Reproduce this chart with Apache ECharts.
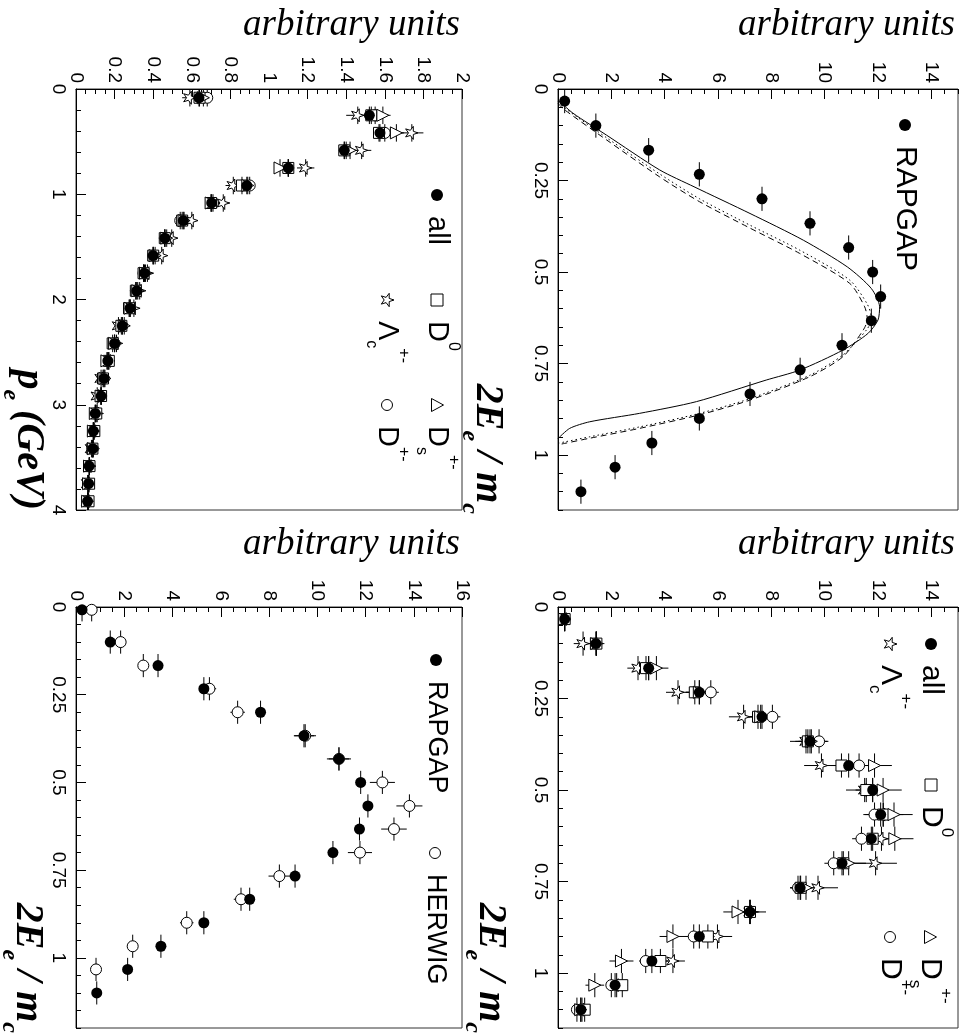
<!DOCTYPE html>
<html>
<head>
<meta charset="utf-8">
<script src="https://cdn.jsdelivr.net/npm/echarts@6/dist/echarts.min.js"></script>
<style>
  html, body { margin: 0; padding: 0; background: #fff; }
  #chart { width: 961px; height: 1034px; }
</style>
</head>
<body>
<div id="chart"></div>
<script>
// ---- data ----
// bin centres along 2E_e/m_c
const binsE = [0.033, 0.1, 0.167, 0.233, 0.3, 0.367, 0.433, 0.5, 0.567, 0.633, 0.7, 0.767, 0.833, 0.9, 0.967, 1.033, 1.1];
// bottom-left panel: first row sits right at the top edge
const binsEbl = [0.008, 0.1, 0.167, 0.233, 0.3, 0.367, 0.433, 0.5, 0.567, 0.633, 0.7, 0.767, 0.833, 0.9, 0.967, 1.033, 1.1];
const halfBinE = 0.033;
// bin centres along p_e (GeV)
const binsP = [0.083, 0.25, 0.417, 0.583, 0.75, 0.917, 1.083, 1.25, 1.417, 1.583, 1.75, 1.917,
  2.083, 2.25, 2.417, 2.583, 2.75, 2.917, 3.083, 3.25, 3.417, 3.583, 3.75, 3.917];
const halfBinP = 0.083;

// RAPGAP, all charm (same points in three panels)
const rapgap = [0.25, 1.42, 3.4, 5.3, 7.65, 9.45, 10.9, 11.8, 12.1, 11.75, 10.65, 9.08, 7.2, 5.3, 3.52, 2.14, 0.86];
const rapgapErr = [0.05, 0.1, 0.15, 0.15, 0.2, 0.2, 0.2, 0.2, 0.2, 0.2, 0.2, 0.2, 0.15, 0.15, 0.1, 0.1, 0.05];
const rapgapErrBL = [0.05, 0.1, 0.15, 0.2, 0.2, 0.42, 0.42, 0.2, 0.2, 0.2, 0.2, 0.2, 0.15, 0.15, 0.1, 0.1, 0.05];
// HERWIG
const herwig = [0.65, 1.85, 2.79, 5.53, 6.7, 9.5, 10.9, 12.7, 13.82, 13.18, 11.77, 8.43, 6.84, 4.59, 2.35, 0.83];
const herwigErr = [0.1, 0.15, 0.2, 0.28, 0.3, 0.45, 0.5, 0.52, 0.54, 0.53, 0.5, 0.45, 0.3, 0.28, 0.2, 0.15];

// bottom-right: per hadron species
const d0E = [0.25, 1.44, 3.3, 5.13, 7.5, 9.37, 10.63, 11.56, 12.19, 11.8, 10.7, 9.1, 7.2, 5.62, 3.84, 2.41, 1.0];
const dpE = [0.25, 1.44, 3.4, 5.73, 8.04, 9.79, 11.29, 11.8, 11.87, 11.38, 10.34, 9.0, 7.2, 5.09, 3.29, 2.0, 0.71];
const dsE = [0.25, 1.44, 3.69, 5.3, 7.6, 9.5, 11.87, 12.19, 12.6, 12.63, 10.9, 9.3, 6.75, 4.31, 2.38, 1.38, 0.85];
const lcE = [0.25, 0.94, 3.0, 4.5, 6.96, 9.3, 9.88, 11.5, 12.2, 12.13, 11.91, 9.75, 7.2, 5.98, 4.31, 2.2, 0.9];
const d0Err = [0.1, 0.2, 0.3, 0.35, 0.35, 0.35, 0.4, 0.4, 0.4, 0.4, 0.35, 0.35, 0.35, 0.3, 0.3, 0.2, 0.15];
const dpErr = [0.1, 0.2, 0.3, 0.3, 0.3, 0.35, 0.35, 0.35, 0.35, 0.35, 0.35, 0.3, 0.3, 0.3, 0.25, 0.2, 0.15];
const dsErr = [0.15, 0.3, 0.45, 0.5, 0.55, 0.6, 0.65, 0.7, 0.7, 0.7, 0.65, 0.6, 0.55, 0.5, 0.45, 0.35, 0.3];
const lcErr = [0.15, 0.35, 0.4, 0.45, 0.55, 0.6, 0.65, 0.7, 0.75, 0.75, 0.8, 0.75, 0.6, 0.55, 0.45, 0.35, 0.25];

// top-left: p_e spectra
const allP = [0.637, 1.52, 1.575, 1.39, 1.1, 0.885, 0.703, 0.556, 0.461, 0.4, 0.355, 0.315, 0.28, 0.24, 0.2, 0.165, 0.145, 0.13, 0.1, 0.09, 0.087, 0.068, 0.065, 0.06];
const d0P = [0.64, 1.53, 1.57, 1.39, 1.1, 0.86, 0.7, 0.55, 0.46, 0.4, 0.35, 0.31, 0.275, 0.235, 0.19, 0.17, 0.14, 0.13, 0.105, 0.095, 0.085, 0.07, 0.068, 0.065];
const dsP = [0.66, 1.59, 1.66, 1.42, 1.057, 0.89, 0.7, 0.56, 0.47, 0.41, 0.36, 0.32, 0.28, 0.25, 0.2, 0.16, 0.15, 0.13, 0.1, 0.09, 0.09, 0.07, 0.065, 0.06];
const lcP = [0.59, 1.46, 1.74, 1.48, 1.19, 0.815, 0.763, 0.6, 0.496, 0.444, 0.37, 0.33, 0.3, 0.22, 0.21, 0.17, 0.13, 0.11, 0.11, 0.09, 0.08, 0.07, 0.06, 0.06];
const dpP = [0.68, 1.55, 1.6, 1.4, 1.1, 0.9, 0.71, 0.54, 0.46, 0.4, 0.35, 0.31, 0.28, 0.24, 0.2, 0.165, 0.145, 0.13, 0.1, 0.09, 0.087, 0.068, 0.065, 0.06];
const allPErr = [0.01, 0.015, 0.015, 0.015, 0.012, 0.01, 0.01, 0.01, 0.008, 0.008, 0.008, 0.007, 0.007, 0.006, 0.006, 0.005, 0.005, 0.005, 0.004, 0.004, 0.004, 0.004, 0.003, 0.003];
const d0PErr = [0.015, 0.02, 0.02, 0.02, 0.018, 0.015, 0.015, 0.012, 0.012, 0.01, 0.01, 0.01, 0.009, 0.008, 0.008, 0.007, 0.007, 0.006, 0.006, 0.005, 0.005, 0.005, 0.005, 0.005];
const dsPErr = [0.03, 0.04, 0.04, 0.035, 0.03, 0.03, 0.025, 0.025, 0.02, 0.02, 0.02, 0.018, 0.016, 0.015, 0.014, 0.013, 0.012, 0.011, 0.01, 0.01, 0.01, 0.009, 0.009, 0.009];
const lcPErr = [0.04, 0.06, 0.06, 0.05, 0.045, 0.04, 0.035, 0.03, 0.03, 0.025, 0.025, 0.022, 0.02, 0.02, 0.018, 0.016, 0.015, 0.014, 0.013, 0.012, 0.012, 0.011, 0.011, 0.01];
const dpPErr = [0.02, 0.025, 0.025, 0.025, 0.02, 0.02, 0.018, 0.016, 0.015, 0.013, 0.012, 0.011, 0.01, 0.01, 0.009, 0.008, 0.008, 0.007, 0.007, 0.006, 0.006, 0.006, 0.005, 0.005];

// model curves in the top-right panel: (2E_e/m_c, value)
const solidX = [0.03, 0.066, 0.126, 0.221, 0.267, 0.34, 0.413, 0.486, 0.545, 0.595, 0.631, 0.668, 0.713, 0.768, 0.795, 0.854, 0.886, 0.909, 0.927, 0.955];
const solidV = [0, 0.56, 1.82, 3.81, 5.1, 7.2, 9.2, 10.85, 11.75, 12.06, 12.0, 11.62, 10.69, 9.06, 7.81, 5.19, 3.06, 1.19, 0.44, 0];
const dashX = [0.04, 0.057, 0.139, 0.24, 0.308, 0.38, 0.449, 0.531, 0.595, 0.63, 0.658, 0.731, 0.786, 0.85, 0.89, 0.927, 0.954, 0.968, 0.972];
const dashV = [0, 0.25, 1.82, 3.81, 5.31, 7.2, 9.06, 10.94, 11.5, 11.6, 11.45, 10.69, 9.44, 7.19, 5.31, 3.06, 1.19, 0.25, 0];
const dotX = [0.035, 0.052, 0.133, 0.232, 0.3, 0.372, 0.44, 0.522, 0.588, 0.625, 0.655, 0.726, 0.782, 0.846, 0.886, 0.923, 0.95, 0.964, 0.968];
const dotV = [0, 0.25, 1.82, 3.81, 5.31, 7.2, 9.06, 10.94, 11.6, 11.75, 11.6, 10.69, 9.44, 7.19, 5.31, 3.06, 1.19, 0.25, 0];

// ---- layout ----
const sansFont = "'Liberation Sans', Arial, Helvetica, sans-serif";
const serifFont = "'Liberation Serif', 'Times New Roman', serif";
const starPath = 'path://M50,0 L61.8,35.1 L98.6,35.3 L69.1,57.3 L80.1,92.5 L50,71.2 L19.9,92.5 L30.9,57.3 L1.4,35.3 L38.2,35.1 Z';

// value axis runs across (top), 2E/m or p_e runs down (left)
const panels = [
  {left: 76, top: 89, width: 386, height: 421, vMax: 2, vStep: 0.2, vMinor: 0.05, vLast: true, xMax: 4, xStep: 1, xMinor: 0.2, xLast: true},
  {left: 558, top: 89, width: 400, height: 421, vMax: 15, vStep: 2, vMinor: 0.5, vLast: false, xMax: 1.15, xStep: 0.25, xMinor: 0.05, xLast: false},
  {left: 76, top: 607, width: 386, height: 421, vMax: 16, vStep: 2, vMinor: 0.5, vLast: true, xMax: 1.2, xStep: 0.25, xMinor: 0.05, xLast: false},
  {left: 558, top: 607, width: 400, height: 421, vMax: 15, vStep: 2, vMinor: 0.5, vLast: false, xMax: 1.15, xStep: 0.25, xMinor: 0.05, xLast: false}
];

const option = {
  animation: false,
  backgroundColor: '#fff',
  grid: [],
  xAxis: [],
  yAxis: [],
  series: [],
  graphic: []
};

const tickLabel = {color: '#000', fontSize: 19, fontFamily: sansFont};

panels.forEach((p, i) => {
  option.grid.push({
    left: p.left, top: p.top, width: p.width, height: p.height,
    show: true, borderColor: '#333', borderWidth: 1, backgroundColor: 'transparent',
    outerBoundsMode: 'none', containLabel: false
  });
  // across: arbitrary units (labels turned to read downwards, end at the axis)
  option.xAxis.push({
    gridIndex: i, type: 'value', position: 'top', min: 0, max: p.vMax, interval: p.vStep,
    axisLine: {show: true, onZero: false, lineStyle: {color: '#000', width: 1}},
    axisTick: {show: true, inside: true, length: 10, lineStyle: {color: '#000', width: 1}},
    axisLabel: Object.assign({rotate: 90, margin: 6, showMinLabel: true, showMaxLabel: p.vLast, align: 'right', verticalAlign: 'middle'}, tickLabel),
    splitLine: {show: false}
  });
  option.xAxis.push({
    gridIndex: i, type: 'value', position: 'top', min: 0, max: p.vMax, interval: p.vMinor,
    axisLine: {show: false, onZero: false},
    axisTick: {show: true, inside: true, length: 5, lineStyle: {color: '#000', width: 1}},
    axisLabel: {show: false}, splitLine: {show: false}
  });
  // down: 2E_e/m_c or p_e
  option.yAxis.push({
    gridIndex: i, type: 'value', position: 'left', inverse: true, min: 0, max: p.xMax, interval: p.xStep,
    axisLine: {show: true, onZero: false, lineStyle: {color: '#000', width: 1}},
    axisTick: {show: true, inside: true, length: 10, lineStyle: {color: '#000', width: 1}},
    axisLabel: Object.assign({rotate: -90, margin: 8, showMinLabel: true, showMaxLabel: p.xLast, align: 'center', verticalAlign: 'top'}, tickLabel),
    splitLine: {show: false}
  });
  option.yAxis.push({
    gridIndex: i, type: 'value', position: 'left', inverse: true, min: 0, max: p.xMax, interval: p.xMinor,
    axisLine: {show: false, onZero: false},
    axisTick: {show: true, inside: true, length: 5, lineStyle: {color: '#000', width: 1}},
    axisLabel: {show: false}, splitLine: {show: false}
  });
});

function errBars(panel, vals, errs, bins, half) {
  const data = [];
  vals.forEach((v, k) => { if (v != null) data.push([v, bins[k], errs[k], half]); });
  return {
    type: 'custom', xAxisIndex: panel * 2, yAxisIndex: panel * 2, clip: true, z: 2,
    encode: {x: 0, y: 1},
    renderItem: function (params, api) {
      const v = api.value(0), x = api.value(1), ve = api.value(2), xe = api.value(3);
      const a = api.coord([v, x - xe]), b = api.coord([v, x + xe]);
      const c = api.coord([v - ve, x]), d = api.coord([v + ve, x]);
      const st = {stroke: '#000', lineWidth: 1};
      return {type: 'group', children: [
        {type: 'line', shape: {x1: a[0], y1: a[1], x2: b[0], y2: b[1]}, style: st},
        {type: 'line', shape: {x1: c[0], y1: c[1], x2: d[0], y2: d[1]}, style: st}
      ]};
    },
    data: data
  };
}

const markers = {
  full: {symbol: 'circle', size: 11, rot: 0, style: {color: '#000', opacity: 1}},
  ocircle: {symbol: 'circle', size: 11, rot: 0, style: {color: '#fff', borderColor: '#000', borderWidth: 1, opacity: 1}},
  rect: {symbol: 'rect', size: 11, rot: 0, style: {color: '#fff', borderColor: '#000', borderWidth: 1, opacity: 1}},
  tri: {symbol: 'triangle', size: 12, rot: -90, style: {color: '#fff', borderColor: '#000', borderWidth: 1, opacity: 1}},
  star: {symbol: starPath, size: 13, rot: -90, style: {color: '#fff', borderColor: '#000', borderWidth: 1, opacity: 1}}
};

function points(panel, vals, bins, kind, z) {
  const m = markers[kind];
  const data = [];
  vals.forEach((v, k) => { if (v != null) data.push([v, bins[k]]); });
  return {
    type: 'scatter', xAxisIndex: panel * 2, yAxisIndex: panel * 2, z: z,
    symbol: m.symbol, symbolSize: m.size, symbolRotate: m.rot, symbolKeepAspect: true,
    itemStyle: m.style, emphasis: {disabled: true}, data: data
  };
}

function curve(panel, xs, vs, dash) {
  return {
    type: 'line', xAxisIndex: panel * 2, yAxisIndex: panel * 2, z: 1,
    showSymbol: false, smooth: 0.25, clip: true,
    lineStyle: {color: '#000', width: 1, type: dash},
    data: xs.map((x, k) => [vs[k], x])
  };
}

// top-left: p_e
option.series.push(
  errBars(0, lcP, lcPErr, binsP, halfBinP), errBars(0, dpP, dpPErr, binsP, halfBinP),
  errBars(0, d0P, d0PErr, binsP, halfBinP), errBars(0, dsP, dsPErr, binsP, halfBinP),
  errBars(0, allP, allPErr, binsP, halfBinP),
  points(0, lcP, binsP, 'star', 3), points(0, dpP, binsP, 'ocircle', 4),
  points(0, d0P, binsP, 'rect', 5), points(0, dsP, binsP, 'tri', 6),
  points(0, allP, binsP, 'full', 7)
);
// top-right: RAPGAP with model curves
option.series.push(
  curve(1, solidX, solidV, 'solid'), curve(1, dashX, dashV, [6, 4]), curve(1, dotX, dotV, [1.5, 3]),
  errBars(1, rapgap, rapgapErr, binsE, halfBinE), points(1, rapgap, binsE, 'full', 7)
);
// bottom-left: RAPGAP vs HERWIG
option.series.push(
  errBars(2, herwig, herwigErr, binsEbl, halfBinE), errBars(2, rapgap, rapgapErrBL, binsEbl, halfBinE),
  points(2, herwig, binsEbl, 'ocircle', 4), points(2, rapgap, binsEbl, 'full', 7)
);
// bottom-right: species
option.series.push(
  errBars(3, lcE, lcErr, binsE, halfBinE), errBars(3, dpE, dpErr, binsE, halfBinE),
  errBars(3, d0E, d0Err, binsE, halfBinE), errBars(3, dsE, dsErr, binsE, halfBinE),
  errBars(3, rapgap, rapgapErr, binsE, halfBinE),
  points(3, lcE, binsE, 'star', 3), points(3, dpE, binsE, 'ocircle', 4),
  points(3, d0E, binsE, 'rect', 5), points(3, dsE, binsE, 'tri', 6),
  points(3, rapgap, binsE, 'full', 7)
);

// ---- titles ----
[[460, 44], [955, 44], [460, 563], [955, 563]].forEach(pos => {
  option.graphic.push({
    type: 'text', x: pos[0], y: pos[1], z: 10,
    style: {text: 'arbitrary units', fill: '#000', fontFamily: serifFont, fontStyle: 'italic',
      fontSize: 37, align: 'right', verticalAlign: 'bottom'}
  });
});

const axisRich = {
  b: {fill: '#000', fontFamily: serifFont, fontStyle: 'italic', fontWeight: 'bold', fontSize: 40, lineHeight: 60, verticalAlign: 'middle'},
  s: {fill: '#000', fontFamily: serifFont, fontStyle: 'italic', fontWeight: 'bold', fontSize: 24, lineHeight: 26, verticalAlign: 'bottom'}
};
function sideTitle(x, y, text) {
  return {
    type: 'text', x: x, y: y, rotation: -Math.PI / 2, z: 10,
    style: {text: text, rich: axisRich, fill: '#000', align: 'right', verticalAlign: 'middle'}
  };
}
option.graphic.push(
  sideTitle(28, 510, '{b|p}{s|e}{b| (GeV)}'),
  sideTitle(487, 514, '{b|2E}{s|e}{b| / m}{s|c}'),
  sideTitle(27, 1033, '{b|2E}{s|e}{b| / m}{s|c}'),
  sideTitle(490, 1033, '{b|2E}{s|e}{b| / m}{s|c}')
);

// ---- legends (rotated with the rest of the figure) ----
function legendRich(size) {
  return {
    m: {fill: '#000', fontFamily: sansFont, fontSize: size, lineHeight: 48, verticalAlign: 'middle'},
    p: {fill: '#000', fontFamily: sansFont, fontSize: Math.round(size * 0.55), lineHeight: 20, verticalAlign: 'top'},
    s: {fill: '#000', fontFamily: sansFont, fontSize: Math.round(size * 0.55), lineHeight: 20, verticalAlign: 'bottom'}
  };
}
function legendMarker(kind) {
  const open = {fill: '#fff', stroke: '#000', lineWidth: 1};
  if (kind === 'full') return {type: 'circle', shape: {cx: 0, cy: 0, r: 6}, style: {fill: '#000'}};
  if (kind === 'ocircle') return {type: 'circle', shape: {cx: 0, cy: 0, r: 5.5}, style: open};
  if (kind === 'rect') return {type: 'rect', shape: {x: -6, y: -6, width: 12, height: 12}, style: open};
  if (kind === 'tri') return {type: 'polygon', shape: {points: [[0, -6.5], [6.5, 5.5], [-6.5, 5.5]]}, style: open};
  return {type: 'polygon', shape: {points: [[0, -7], [1.6, -2.2], [6.7, -2.2], [2.6, 0.9], [4.1, 5.7], [0, 2.8], [-4.1, 5.7], [-2.6, 0.9], [-6.7, -2.2], [-1.6, -2.2]]}, style: open};
}
function legendItem(x, y, kind, text, size) {
  return {
    type: 'group', x: x, y: y, rotation: -Math.PI / 2, z: 10,
    children: [
      legendMarker(kind),
      {type: 'text', x: 21, y: 0, style: {text: text, rich: legendRich(size), fill: '#000', align: 'left', verticalAlign: 'middle'}}
    ]
  };
}
option.graphic.push(
  legendItem(437, 195, 'full', '{m|all}', 29),
  legendItem(437, 300, 'rect', '{m|D}{p|0}', 29),
  legendItem(437, 405, 'tri', '{m|D}{s|s}{p|+-}', 29),
  legendItem(387, 300, 'star', '{m|Λ}{s|c}{p|+-}', 29),
  legendItem(387, 405, 'ocircle', '{m|D}{p|+-}', 29),
  legendItem(905, 125, 'full', '{m|RAPGAP}', 30),
  legendItem(436, 660, 'full', '{m|RAPGAP}', 27),
  legendItem(435, 853, 'ocircle', '{m|HERWIG}', 27),
  legendItem(931, 644, 'full', '{m|all}', 30),
  legendItem(890, 644, 'star', '{m|Λ}{s|c}{p|+-}', 30),
  legendItem(931, 785, 'rect', '{m|D}{p|0}', 30),
  legendItem(930, 937, 'tri', '{m|D}{s|s}{p|+-}', 30),
  legendItem(890, 937, 'ocircle', '{m|D}{p|+-}', 30)
);

const chart = echarts.init(document.getElementById('chart'), null, {renderer: 'canvas'});
chart.setOption(option);
</script>
</body>
</html>
